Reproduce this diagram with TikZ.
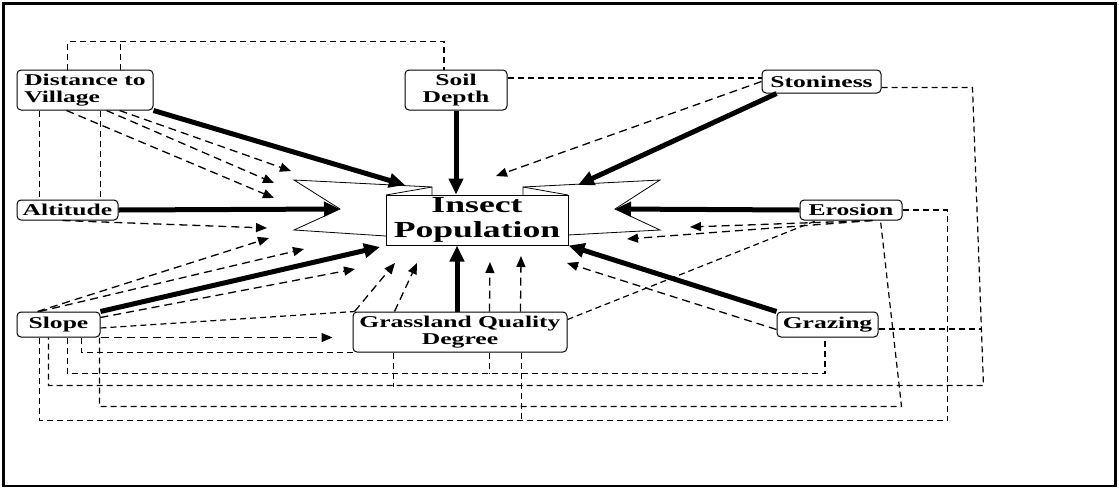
\documentclass[tikz,border=0pt]{standalone}
\usepackage{fontspec}
\setmainfont{Liberation Serif}[FakeStretch=1.55]
\usetikzlibrary{arrows.meta}

\begin{document}
\begin{tikzpicture}[
    x=1pt, y=-1pt,
    box/.style={draw, rounded corners=4pt, line width=1pt, fill=white, inner sep=0pt,
      font=\fontsize{16.5}{17}\selectfont\bfseries},
    strong/.style={line width=5pt, -{Triangle[length=16pt,width=14pt]}},
    weak/.style={line width=1.3pt, dash pattern=on 8pt off 5pt, -{Triangle[length=11pt,width=9pt]}},
    link/.style={line width=1.2pt, dash pattern=on 6pt off 4pt},
  ]
  \useasboundingbox (0,0) rectangle (1119,488);
  \draw[line width=2.5pt] (3.5,3.5) rectangle (1115.5,486);

  % The banner behind the centre
  \draw[line width=0.8pt, fill=white] (432,195) -- (432,187) -- (294,180) -- (340,209)
    -- (294,230) -- (386,236);
  \draw[line width=0.8pt, fill=white] (523,195) -- (523,187) -- (660,180) -- (615,209)
    -- (660,230) -- (568,235);
  \draw[line width=0.8pt] (386,195) -- (432,187);
  \draw[line width=0.8pt] (568,195) -- (523,187);
  \node[draw, line width=1pt, fill=white, inner sep=0pt, minimum width=182pt, minimum height=50pt,
    align=center, font=\fontsize{23}{25}\selectfont\bfseries] (insect) at (477,220) {Insect\\Population};

  % The factors
  \node[box, minimum width=136pt, minimum height=40pt, align=left] (dist) at (85,90) {Distance to\\Village};
  \node[box, minimum width=101pt, minimum height=20pt] (alt) at (67.5,210) {Altitude};
  \node[box, minimum width=102pt, minimum height=40pt, align=center] (soil) at (456,90) {Soil\\Depth};
  \node[box, minimum width=119pt, minimum height=23pt] (ston) at (821.5,81.5) {Stoniness};
  \node[box, minimum width=102pt, minimum height=20pt] (eros) at (851,210) {Erosion};
  \node[box, minimum width=83pt, minimum height=25pt] (slope) at (58.5,324.5) {Slope};
  \node[box, minimum width=214pt, minimum height=40pt, align=center] (grass) at (460,332) {Grassland Quality\\Degree};
  \node[box, minimum width=101pt, minimum height=25pt] (graz) at (827.5,324.5) {Grazing};

  % Where the arrows stop
  \coordinate (tdist) at (405,185);
  \coordinate (tston) at (578,185);
  \coordinate (lnotch) at (340,209);
  \coordinate (rnotch) at (615,209);
  \coordinate (tslope) at (380,247);
  \coordinate (dv1) at (291,171);
  \coordinate (dv2) at (274,183);
  \coordinate (dv3) at (274,198);
  \coordinate (al1) at (267,228);
  \coordinate (sl1) at (269,238);
  \coordinate (sl2) at (304,249);
  \coordinate (sl3) at (355,269);
  \coordinate (gq1) at (395,263);
  \coordinate (gq2) at (417,263);
  \coordinate (gq3) at (490,262);
  \coordinate (gq4) at (521,256);
  \coordinate (er1) at (690,227);
  \coordinate (er2) at (627,239);
  \coordinate (gz1) at (567,263);
  \coordinate (st1) at (496,176);

  % Direct effects
  \draw[strong] (dist.south east) -- (tdist);
  \draw[strong] (soil.south) -- (soil.south |- insect.north);
  \draw[strong] ([xshift=15pt]ston.south west) -- (tston);
  \draw[strong] (alt.east) -- (lnotch);
  \draw[strong] (eros.west) -- (rnotch);
  \draw[strong] (slope.north east) -- (tslope);
  \draw[strong] ([xshift=-3pt]grass.north) -- ([xshift=-3pt]grass.north |- insect.south);
  \draw[strong] (graz.north west) -- (insect.south east);

  % Indirect effects
  \draw[weak] ([xshift=50pt]dist.south west) -- (dv3);
  \draw[weak] ([xshift=90pt]dist.south west) -- (dv2);
  \draw[weak] ([xshift=103pt]dist.south west) -- (dv1);
  \draw[weak] ([xshift=46pt]alt.south west) -- (al1);
  \draw[weak] ([xshift=21pt]slope.north west) -- (sl1);
  \draw[weak] ([xshift=23pt]slope.north west) -- (sl2);
  \draw[weak] ([yshift=-6pt]slope.north east) -- (sl3);
  \draw[weak, shorten >=20pt] (slope.south east) -- (slope.south east -| grass.west);
  \draw[weak] ([xshift=2pt]grass.north west) -- (gq1);
  \draw[weak] ([xshift=42pt]grass.north west) -- (gq2);
  \draw[weak] ([xshift=137pt]grass.north west) -- (gq3);
  \draw[weak] ([xshift=168pt]grass.north west) -- (gq4);
  \draw[weak] ([xshift=-30pt]eros.south east) -- (er1);
  \draw[weak] ([xshift=-30pt]eros.south east) -- (er2);
  \draw[weak] ([yshift=-5pt]graz.west) -- (gz1);
  \draw[weak] (ston.west) -- (st1);

  % Links between factors
  \draw[link] ([xshift=51pt]dist.north west) -- ++(0,-28) -| ([xshift=-12pt]soil.north);
  \draw[link] ([xshift=104pt]dist.north west) -- ++(0,-28);
  \draw[link] ([xshift=23pt]dist.south west) -- ([xshift=23pt]alt.north west);
  \draw[link] ([xshift=84pt]dist.south west) -- ([xshift=84pt]alt.north west);
  \draw[link] ([yshift=12pt]soil.east) -- ([yshift=12pt]soil.east -| ston.west);
  \draw[link] ([yshift=-3.5pt]slope.east) -- ([xshift=2pt]grass.north west);
  \draw[link] ([yshift=-8pt]grass.north east) -- ([xshift=17pt]eros.south west);
  \draw[link] ([yshift=-6pt]ston.east) -- ++(91,0) -- ++(11,298) -| ([xshift=32pt]slope.south west);
  \draw[link] ([yshift=-4.5pt]graz.east) -- ++(103,0);
  \draw[link] ([xshift=41pt]grass.south west) -- ++(0,34);
  \draw[link] ([xshift=51pt]slope.south west) -- ++(0,36) -| ([xshift=-2.5pt]graz.south);
  \draw[link] ([xshift=137pt]grass.south west) -- ++(0,21);
  \draw[link] ([xshift=65pt]slope.south west) |- (grass.south west);
  \draw[link] ([xshift=83pt]slope.south west) -- ++(0,69) -- ++(802,0) -- ([xshift=-22pt]eros.south east);
  \draw[link] ([xshift=23pt]slope.south west) -- ++(0,83) -- ++(908,0) |- (eros.east);
  \draw[link] ([xshift=169pt]grass.south west) -- ++(0,68);
\end{tikzpicture}
\end{document}
